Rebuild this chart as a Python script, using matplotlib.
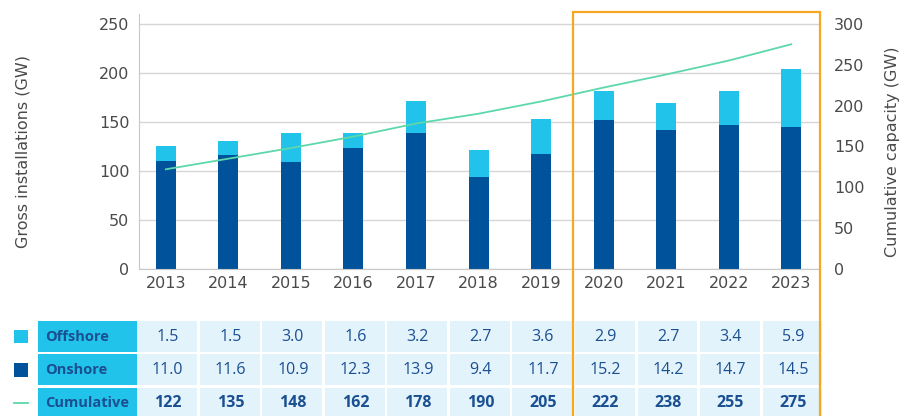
import matplotlib
matplotlib.use("Agg")
import matplotlib.pyplot as plt
from matplotlib.patches import Rectangle
from matplotlib.lines import Line2D

years = ["2013", "2014", "2015", "2016", "2017", "2018", "2019", "2020", "2021", "2022", "2023"]
offshore = [1.5, 1.5, 3.0, 1.6, 3.2, 2.7, 3.6, 2.9, 2.7, 3.4, 5.9]
onshore = [11.0, 11.6, 10.9, 12.3, 13.9, 9.4, 11.7, 15.2, 14.2, 14.7, 14.5]
cumulative = [122, 135, 148, 162, 178, 190, 205, 222, 238, 255, 275]
left_ticks = [0, 50, 100, 150, 200, 250]
right_ticks = [0, 50, 100, 150, 200, 250, 300]

DARK = "#00529B"
LIGHT = "#22C3EA"
MINT = "#5DD8AA"
TEXT = "#4A4A4A"
TBL_TEXT = "#1A4F91"
CELL = "#E3F3FB"
ORANGE = "#F7A823"
GRID = "#D6D6D6"

plt.rcParams['font.family'] = ['DejaVu Sans']
W, H = 905, 416
fig = plt.figure(figsize=(W / 100, H / 100), dpi=100)

ax_l, ax_r, ax_t, ax_b = 139, 820, 14, 269
ax = fig.add_axes([ax_l / W, (H - ax_b) / H, (ax_r - ax_l) / W, (ax_b - ax_t) / H])
x = list(range(len(years)))
on_h = [v * 10 for v in onshore]
off_h = [v * 10 for v in offshore]
bw = 0.32
ax.bar(x, on_h, bw, color=DARK, zorder=2)
ax.bar(x, off_h, bw, bottom=on_h, color=LIGHT, zorder=2)
ax.set_xlim(-0.43, 10.46)
ax.set_ylim(0, 260)
ax.set_yticks(left_ticks)
ax.grid(axis='y', color=GRID, lw=1, zorder=0)
ax.set_xticks(x)
ax.set_xticklabels(years)
ax.tick_params(axis='both', length=0, colors=TEXT, labelsize=11.5)
ax.tick_params(axis='y', pad=7)
ax.tick_params(axis='x', pad=5)
for s in ['top', 'right']:
    ax.spines[s].set_visible(False)
for s in ['left', 'bottom']:
    ax.spines[s].set_color("#C8C8C8")
ax.set_ylabel("Gross installations (GW)", color=TEXT, fontsize=11.5)
ax.yaxis.set_label_coords(-(139 - 31) / (ax_r - ax_l), 0.46)

ax2 = ax.twinx()
ax2.plot(x, cumulative, color=MINT, lw=1.3, zorder=3)
ax2.set_ylim(0, 312)
ax2.set_yticks(right_ticks)
ax2.tick_params(axis='y', length=0, colors=TEXT, labelsize=11.5, pad=10)
for s in ax2.spines.values():
    s.set_visible(False)
ax2.set_ylabel("Cumulative capacity (GW)", color=TEXT, fontsize=11.5)
ax2.yaxis.set_label_coords(1 + (885 - 820) / (ax_r - ax_l), 0.46)

# Table axes, sharing the year positions
tb_top, tb_bot = 321, 421
tax = fig.add_axes([ax_l / W, (H - tb_bot) / H, (ax_r - ax_l) / W, (tb_bot - tb_top) / H])
tax.set_xlim(ax.get_xlim())
tax.set_ylim(3, 0)
tax.axis('off')
rows = [("Offshore", offshore, "{:.1f}", 'normal'),
        ("Onshore", onshore, "{:.1f}", 'normal'),
        ("Cumulative", cumulative, "{:d}", 'bold')]
rh = 31 / 33.3
gap = 0.045
lab_x0 = (38 - 166) / 62.5
lab_x1 = (137 - 166) / 62.5
for r, (name, vals, fmt, wt) in enumerate(rows):
    tax.add_patch(Rectangle((lab_x0, r), lab_x1 - lab_x0, rh, color=LIGHT, clip_on=False, lw=0))
    tax.text(lab_x0 + 0.12, r + rh / 2, name, color=TBL_TEXT, fontsize=10.5, fontweight='bold',
             va='center', ha='left', family=['Open Sans', 'DejaVu Sans'], clip_on=False)
    for i, v in enumerate(vals):
        tax.add_patch(Rectangle((i - 0.5 + gap / 2 + 0.02, r), 1 - gap, rh, color=CELL, clip_on=False, lw=0))
        tax.text(i + 0.03, r + rh / 2, fmt.format(v), color=TBL_TEXT, fontsize=11.5, fontweight=wt,
                 va='center', ha='center', family=['Open Sans', 'DejaVu Sans'], clip_on=False)

# legend keys
kx0 = (14 - 166) / 62.5
kx1 = (28 - 166) / 62.5
tax.add_patch(Rectangle((kx0, 0 + rh / 2 - 0.2), kx1 - kx0, 0.4, color=LIGHT, clip_on=False, lw=0))
tax.add_patch(Rectangle((kx0, 1 + rh / 2 - 0.2), kx1 - kx0, 0.4, color=DARK, clip_on=False, lw=0))
tax.add_line(Line2D([kx0, kx1], [2 + rh / 2, 2 + rh / 2], color=MINT, lw=1.3, clip_on=False))

# Orange highlight box
fig.add_artist(Rectangle((573 / W, -0.05), (820 - 573) / W, 1.05 - 12 / H,
                         transform=fig.transFigure, fill=False, edgecolor=ORANGE, lw=1.6, zorder=10))

fig.savefig("out.png", dpi=100)
